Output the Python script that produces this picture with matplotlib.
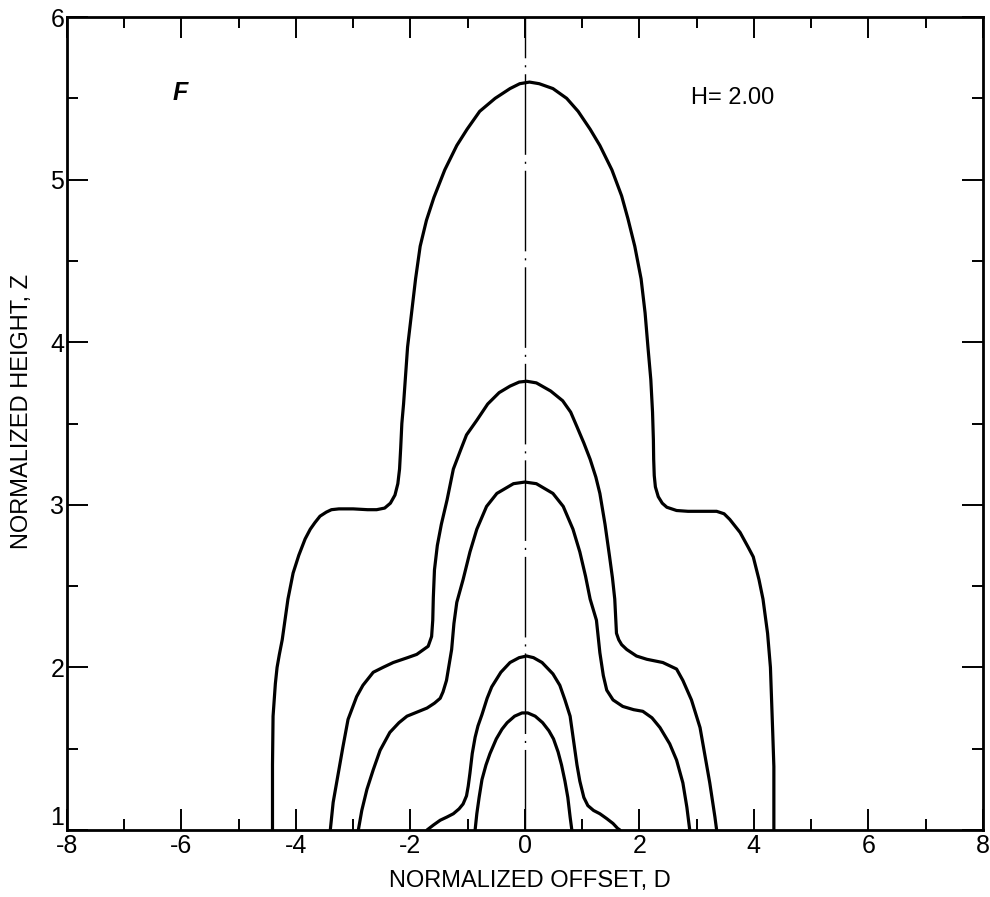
import matplotlib
matplotlib.use("Agg")
import matplotlib.pyplot as plt
from matplotlib.ticker import FixedLocator, FixedFormatter

plt.rcParams['font.family'] = ['Liberation Sans', 'DejaVu Sans']

# contour curves (offset D, height Z), left foot -> top -> right foot
c1_d = [-4.41, -4.41, -4.40, -4.36, -4.33, -4.29, -4.24, -4.14, -4.05, -3.95, -3.84, -3.75,
        -3.67, -3.58, -3.47, -3.38, -3.25, -3.00, -2.75, -2.59, -2.45, -2.35, -2.27, -2.22,
        -2.19, -2.17, -2.15, -2.12, -2.05, -1.98, -1.91, -1.83, -1.72, -1.59, -1.40, -1.19,
        -1.01, -0.79, -0.52, -0.26, -0.09, 0.08, 0.25, 0.49, 0.73, 0.93, 1.14, 1.31, 1.52,
        1.69, 1.80, 1.92, 2.03, 2.10, 2.15, 2.20, 2.23, 2.245, 2.25, 2.26, 2.28, 2.33, 2.40, 2.48,
        2.65, 2.85, 3.06, 3.35, 3.48, 3.58, 3.76, 3.90, 3.99, 4.09, 4.16, 4.24, 4.29, 4.31,
        4.33, 4.35, 4.35]
c1_z = [1.00, 1.40, 1.70, 1.90, 2.00, 2.08, 2.17, 2.42, 2.58, 2.69, 2.79, 2.85,
        2.89, 2.93, 2.955, 2.97, 2.975, 2.975, 2.97, 2.97, 2.98, 3.01, 3.06, 3.13,
        3.22, 3.35, 3.50, 3.62, 3.97, 4.18, 4.39, 4.59, 4.75, 4.89, 5.06, 5.21,
        5.31, 5.42, 5.50, 5.56, 5.59, 5.60, 5.59, 5.56, 5.50, 5.42, 5.31, 5.21, 5.06,
        4.90, 4.76, 4.59, 4.39, 4.18, 3.97, 3.77, 3.57, 3.40, 3.28, 3.18, 3.11, 3.05, 3.01, 2.985,
        2.965, 2.96, 2.96, 2.96, 2.945, 2.91, 2.83, 2.74, 2.68, 2.54, 2.42, 2.21, 2.00, 1.80,
        1.60, 1.39, 1.00]

c2_d = [-3.40, -3.35, -3.27, -3.18, -3.09, -2.94, -2.83, -2.65, -2.48, -2.30, -2.05, -1.89,
        -1.77, -1.69, -1.63, -1.61, -1.60, -1.58, -1.53, -1.46, -1.36, -1.25, -1.12, -1.02,
        -0.84, -0.65, -0.45, -0.26, -0.10, 0.03, 0.20, 0.45, 0.66, 0.80, 0.91, 1.03, 1.14,
        1.24, 1.31, 1.40, 1.48, 1.53, 1.57, 1.60, 1.64, 1.69, 1.78, 1.95, 2.13, 2.41, 2.65,
        2.76, 2.91, 3.06, 3.14, 3.23, 3.32, 3.35]
c2_z = [1.00, 1.17, 1.33, 1.51, 1.68, 1.82, 1.89, 1.97, 2.00, 2.03, 2.06, 2.08,
        2.11, 2.13, 2.19, 2.29, 2.43, 2.60, 2.75, 2.88, 3.03, 3.22, 3.34, 3.43,
        3.52, 3.62, 3.69, 3.73, 3.755, 3.76, 3.75, 3.70, 3.64, 3.57, 3.48, 3.38, 3.28,
        3.17, 3.07, 2.88, 2.68, 2.55, 2.42, 2.21, 2.17, 2.14, 2.11, 2.07, 2.05, 2.03, 1.99,
        1.92, 1.80, 1.63, 1.47, 1.29, 1.08, 1.00]

c3_d = [-2.91, -2.85, -2.76, -2.65, -2.53, -2.36, -2.20, -2.06, -1.85, -1.71, -1.58, -1.48,
        -1.43, -1.37, -1.28, -1.24, -1.19, -1.08, -0.96, -0.84, -0.67, -0.49, -0.20, 0.00,
        0.20, 0.49, 0.67, 0.84, 0.96, 1.06, 1.14, 1.25, 1.31, 1.37, 1.43, 1.54, 1.71, 1.90,
        2.06, 2.22, 2.36, 2.53, 2.65, 2.76, 2.83, 2.88]
c3_z = [1.00, 1.12, 1.25, 1.37, 1.49, 1.60, 1.66, 1.70, 1.73, 1.75, 1.78, 1.81,
        1.85, 1.92, 2.11, 2.27, 2.40, 2.54, 2.71, 2.85, 2.99, 3.07, 3.13, 3.14,
        3.13, 3.07, 2.99, 2.85, 2.71, 2.56, 2.42, 2.29, 2.09, 1.95, 1.86, 1.80, 1.76, 1.74,
        1.73, 1.69, 1.63, 1.53, 1.43, 1.29, 1.14, 1.00]

c4_d = [-1.71, -1.60, -1.48, -1.36, -1.25, -1.15, -1.08, -1.02, -0.99, -0.96, -0.92, -0.87,
        -0.82, -0.75, -0.66, -0.58, -0.42, -0.26, -0.10, 0.03, 0.15, 0.30, 0.49, 0.61,
        0.70, 0.79, 0.85, 0.91, 0.96, 1.03, 1.10, 1.20, 1.31, 1.43, 1.54, 1.62, 1.66]
c4_z = [1.00, 1.03, 1.06, 1.08, 1.10, 1.13, 1.16, 1.21, 1.27, 1.35, 1.47, 1.57,
        1.64, 1.71, 1.81, 1.88, 1.97, 2.03, 2.06, 2.07, 2.06, 2.03, 1.96, 1.89,
        1.80, 1.70, 1.55, 1.40, 1.30, 1.20, 1.15, 1.12, 1.10, 1.07, 1.04, 1.01, 1.00]

c5_d = [-0.87, -0.84, -0.80, -0.75, -0.68, -0.61, -0.50, -0.40, -0.31, -0.18, -0.05, 0.05,
        0.18, 0.31, 0.42, 0.50, 0.58, 0.64, 0.70, 0.75, 0.79, 0.82]
c5_z = [1.00, 1.10, 1.20, 1.31, 1.40, 1.47, 1.56, 1.62, 1.66, 1.70, 1.72, 1.72,
        1.70, 1.66, 1.61, 1.56, 1.48, 1.40, 1.30, 1.20, 1.08, 1.00]

curves = [(c1_d, c1_z), (c2_d, c2_z), (c3_d, c3_z), (c4_d, c4_z), (c5_d, c5_z)]

x_major = [-8, -6, -4, -2, 0, 2, 4, 6, 8]
x_minor = [-7, -5, -3, -1, 1, 3, 5, 7]
x_labels = ['-8', '-6', '-4', '-2', '0', '2', '4', '6', '8']
y_major = [1, 2, 3, 4, 5, 6]
y_minor = [1.5, 2.5, 3.5, 4.5, 5.5]
y_labels = ['1', '2', '3', '4', '5', '6']

fig = plt.figure(figsize=(9.9, 8.97), dpi=100)
ax = fig.add_axes([0.0677, 0.0747, 0.925, 0.9063])

for d, z in curves:
    ax.plot(d, z, color='black', lw=2.3, solid_capstyle='round', solid_joinstyle='round')

# centre line (dash-dot)
ax.plot([0, 0], [1, 6], color='black', lw=1.0, dashes=(58, 5, 1.5, 5))

ax.set_xlim(-8, 8)
ax.set_ylim(1, 6)

ax.xaxis.set_major_locator(FixedLocator(x_major))
ax.xaxis.set_major_formatter(FixedFormatter(x_labels))
ax.xaxis.set_minor_locator(FixedLocator(x_minor))
ax.yaxis.set_major_locator(FixedLocator(y_major))
ax.yaxis.set_major_formatter(FixedFormatter(y_labels))
ax.yaxis.set_minor_locator(FixedLocator(y_minor))

ax.tick_params(which='both', direction='in', top=True, right=True, width=1.4, colors='black')
ax.tick_params(which='major', length=15, labelsize=18)
ax.tick_params(which='minor', length=8)
ax.tick_params(axis='x', which='major', pad=3)
ax.tick_params(axis='y', which='major', pad=2)

fig.canvas.draw()
ax.get_yticklabels()[0].set_va('bottom')

for s in ax.spines.values():
    s.set_linewidth(2.0)

ax.set_xlabel('NORMALIZED OFFSET, D', fontsize=17)
ax.set_ylabel('NORMALIZED HEIGHT, Z', fontsize=17)
ax.xaxis.set_label_coords(0.5055, -0.049)
ax.yaxis.set_label_coords(-0.037, 0.515)

ax.text(-6.03, 5.53, 'F', fontsize=18, style='italic', weight='bold', ha='center', va='center')
ax.text(3.63, 5.50, 'H= 2.00', fontsize=17, ha='center', va='center')

fig.savefig('out.png', dpi=100)
